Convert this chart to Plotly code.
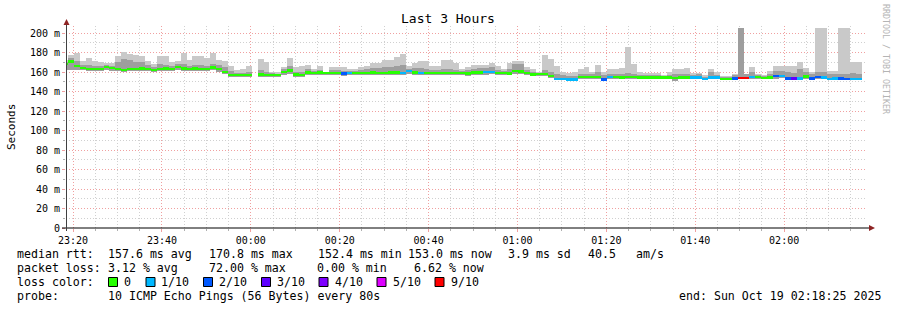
import plotly.graph_objects as go
from datetime import datetime, timedelta

# ---------------- data ----------------
START = datetime(2025, 10, 18, 23, 18, 25)
END = datetime(2025, 10, 19, 2, 18, 25)
STEP_S = 80              # probe step (seconds)
FIRST_CENTER_S = -13     # centre of first step relative to START

# median rtt per step (ms)
median = [
    168, 170.8, 166, 164, 163, 163, 163, 165, 164, 163,
    162, 163, 163, 163.5, 163, 162, 163, 163.5, 163, 165,
    163.5, 163, 163.5, 163, 163, 164.5, 163, 160, 157, 157,
    157, 157, None, 157.4, 157, 157, 157, 160, 161.5, 157.5,
    157, 159.5, 159, 159.5, 159, 159, 159, 158.5, 159, 159,
    159, 159, 159.5, 159, 159, 159.5, 159.5, 159, 160.8, 159.5,
    159, 159, 159, 159, 159, 159, 159, 159, 158.5, 159.5,
    159.5, 160, 160, 159, 159, 158.5, 161, 160.5, 159, 157.5,
    158, 158, 156, 153, 153, 152.5, 152.5, 155, 155, 155,
    155, 152.5, 155, 155, 154.5, 155, 155, 154.5, 154.5, 154.5,
    154.5, 154.5, 154.5, 154, 154.5, 154.5, 154.5, 154.5, 153, 154.5,
    154.5, 153, 153, 153.5, 154, 154, 155, 155, 154, 154.5,
    156, 156, 153.5, 153.5, 153.5, 155.5, 153.5, 155, 154.5, 153,
    153.5, 153.5, 153, 153, 153,
]
# highest ping per step (top of light smoke)
smoke_max = [
    172, 177, 179, 171, 174, 171, 170, 169, 169, 176,
    181, 178, 177, 176, 171, 168, 176, 176, 170, 171,
    179, 172, 176, 176, 174, 179, 172.5, 171, 166, 162,
    163.5, 166, None, 173, 170, 160, 160, 165, 174, 165,
    166.5, 167, 163, 166.5, 160, 165.5, 165.5, 165.5, 163.5, 163.5,
    165, 166.5, 169.5, 169.5, 172.5, 172.5, 175.5, 178, 166.5, 169.5,
    171, 171, 166.5, 166.5, 172.5, 172.5, 169.5, 163.5, 165.5, 167,
    167, 167, 169.5, 166.5, 163.5, 169.5, 171, 171, 165, 163.5,
    160, 177, 173, 166.5, 160, 158.5, 160, 163.5, 165, 160,
    167, 160, 163.5, 163.5, 164, 185.5, 168, 160, 158.5, 158.5,
    158.5, 157, 160, 163, 163.5, 164, 158.5, 158.5, 157, 163.5,
    160, 155.5, 155.5, 158, 205, 158, 165, 158, 156.5, 161,
    166, 166, 166, 166.5, 170.5, 164, 160, 205, 205, 161,
    161, 205, 205, 170, 170,
]
# upper edge of the denser smoke
smoke_mid = [
    170, 174, 171, 167, 167, 166, 166, 167, 166, 170,
    173, 172, 170, 170, 167, 165, 168, 167, 166, 168,
    168, 166, 167, 167, 166, 168, 167, 165, 161, 159,
    159, 160, None, 162, 160, 159, 158, 163, 166, 160,
    160, 163, 161, 162, 160, 162, 162, 161, 161, 161,
    162, 163, 164, 164, 165, 165, 166, 167, 163, 164,
    164, 163, 162, 162, 163, 163, 162, 161, 162, 163,
    164, 164, 165, 162, 161, 163, 168, 168, 162, 160,
    159, 162, 160, 158, 157, 156, 156, 158, 158, 158,
    160, 157, 158, 158, 158, 159, 158, 157, 157, 157,
    157, 156, 157, 158, 158, 158, 157, 158, 155, 160,
    157, 155, 155, 157, 205, 158, 160, 157, 156, 158,
    161, 161, 160, 159, 163, 160, 158, 160, 160, 158,
    158, 158, 158, 159, 158,
]
# lowest ping per step (bottom of smoke)
smoke_min = [
    162, 162, 162, 162, 161, 161, 161, 162, 161, 161,
    160, 161, 161, 161, 161, 160, 161, 161, 161, 162,
    161, 161, 161, 161, 161, 162, 160, 158, 155, 155,
    155, 155, None, 155, 155, 155, 155, 157, 158, 155,
    155, 157, 157, 157, 157, 157, 157, 156, 157, 157,
    157, 157, 157, 157, 157, 157, 157, 157, 158, 157,
    157, 157, 157, 157, 157, 157, 157, 157, 156, 157,
    157, 157, 158, 157, 157, 157, 158, 158, 157, 156,
    156, 156, 154, 152, 152, 151.5, 151.5, 153, 153, 153,
    153, 151.5, 153, 153, 153, 153, 153, 153, 153, 153,
    153, 153, 153, 151, 153, 153, 153, 153, 152, 153,
    153, 152, 152, 152, 153, 153, 153, 153, 153, 153,
    153, 154, 152, 152, 152, 153, 152, 153, 153, 152,
    152, 152, 152, 152, 152,
]
# lost pings (out of 10) per step
loss = [
    0, 0, 0, 0, 0, 0, 0, 0, 0, 0,
    0, 0, 0, 0, 0, 0, 0, 0, 0, 0,
    0, 0, 0, 0, 0, 0, 0, 0, 0, 0,
    0, 0, None, 0, 0, 0, 0, 0, 0, 0,
    0, 0, 0, 0, 0, 0, 0, 2, 1, 0,
    0, 0, 0, 0, 0, 0, 0, 1, 1, 0,
    1, 0, 0, 0, 0, 0, 0, 0, 0, 0,
    0, 1, 1, 0, 0, 0, 0, 0, 0, 0,
    0, 0, 0, 1, 1, 1, 1, 0, 0, 0,
    0, 2, 1, 0, 0, 0, 0, 0, 0, 0,
    0, 0, 0, 0, 0, 0, 1, 1, 1, 1,
    1, 0, 0, 2, 9, 9, 1, 0, 0, 0,
    2, 1, 2, 3, 1, 0, 2, 2, 1, 1,
    1, 2, 2, 1, 1,
]

y_ticks = [0, 20, 40, 60, 80, 100, 120, 140, 160, 180, 200]
y_ticktext = ["0"] + [f"{v} m" for v in y_ticks[1:]]

loss_levels = [0, 1, 2, 3, 4, 5, 9]
loss_labels = ["0", "1/10", "2/10", "3/10", "4/10", "5/10", "9/10"]
loss_colors = {0: "#26ff00", 1: "#00b8ff", 2: "#0059ff", 3: "#5e00ff",
               4: "#7e00ff", 5: "#dd00ff", 9: "#ff0000"}

rtt_stats = ["157.6 ms avg", "170.8 ms max", "152.4 ms min", "153.0 ms now",
             "3.9 ms sd", "40.5", "am/s"]
loss_stats = ["3.12 % avg", "72.00 % max", "0.00 % min", "6.62 % now"]
probe_text = "10 ICMP Echo Pings (56 Bytes) every 80s"
end_text = "end: Sun Oct 19 02:18:25 2025"

# ---------------- build ----------------
times = [START + timedelta(seconds=FIRST_CENTER_S + STEP_S * i) for i in range(len(median))]
idx = [i for i in range(len(median)) if median[i] is not None]
T = [times[i] for i in idx]
W = STEP_S * 1000
MONO = "DejaVu Sans Mono"
MED_HALF = 1.3

fig = go.Figure()
fig.add_trace(go.Bar(
    x=T, base=[smoke_min[i] for i in idx],
    y=[smoke_max[i] - smoke_min[i] for i in idx],
    width=W, marker=dict(color="#c9c9c9", line=dict(width=0)), hoverinfo="skip"))
fig.add_trace(go.Bar(
    x=T, base=[smoke_min[i] for i in idx],
    y=[smoke_mid[i] - smoke_min[i] for i in idx],
    width=W, marker=dict(color="#9e9e9e", line=dict(width=0)), hoverinfo="skip"))
fig.add_trace(go.Bar(
    x=T, base=[median[i] - MED_HALF for i in idx],
    y=[2 * MED_HALF for _ in idx],
    width=W, marker=dict(color=[loss_colors[loss[i]] for i in idx], line=dict(width=0)),
    hoverinfo="skip"))

L, R, TOP, BOT = 66, 866, 26, 228
PH = BOT - TOP


def px(x):
    return (x - L) / (R - L)


def py(y):
    return (BOT - y) / PH


MAJ = "#f0a0a0"
MIN = "#d0d0d0"
DOTS = "1px,2px"

fig.update_layout(
    width=897, height=310,
    margin=dict(l=L, r=897 - R, t=TOP, b=310 - BOT),
    paper_bgcolor="white", plot_bgcolor="white",
    showlegend=False, barmode="overlay", bargap=0,
    font=dict(family=MONO, color="#000000"),
    xaxis=dict(
        type="date", range=[START, END],
        tickformat="%H:%M", dtick=20 * 60 * 1000, tick0="2025-10-18 23:20:00",
        showgrid=True, gridcolor=MAJ, griddash=DOTS, gridwidth=1,
        ticks="outside", ticklen=3, tickcolor=MAJ,
        tickfont=dict(family=MONO, size=10, color="#000000"),
        showline=False, zeroline=False,
        minor=dict(dtick=5 * 60 * 1000, tick0="2025-10-18 23:20:00", showgrid=True,
                   gridcolor=MIN, griddash=DOTS, gridwidth=1,
                   ticks="outside", ticklen=2, tickcolor="#b0b0b0"),
    ),
    yaxis=dict(
        range=[0, PH / 0.975],
        tickvals=y_ticks, ticktext=y_ticktext,
        showgrid=True, gridcolor=MAJ, griddash=DOTS, gridwidth=1,
        ticks="outside", ticklen=3, tickcolor=MAJ,
        tickfont=dict(family=MONO, size=10, color="#000000"),
        showline=False, zeroline=False,
        minor=dict(dtick=10, showgrid=True, gridcolor=MIN, griddash=DOTS, gridwidth=1,
                   ticks="outside", ticklen=2, tickcolor="#b0b0b0"),
    ),
)

shapes = [
    dict(type="line", xref="paper", yref="paper", x0=px(62), x1=px(870), y0=py(228), y1=py(228),
         line=dict(color="#000000", width=1)),
    dict(type="line", xref="paper", yref="paper", x0=px(66.5), x1=px(66.5), y0=py(231), y1=py(22),
         line=dict(color="#404040", width=1)),
    dict(type="path", xref="paper", yref="paper",
         path=f"M {px(63.5)},{py(25)} L {px(69.5)},{py(25)} L {px(66.5)},{py(19)} Z",
         fillcolor="#8e2424", line=dict(width=0)),
    dict(type="path", xref="paper", yref="paper",
         path=f"M {px(869)},{py(225)} L {px(869)},{py(231)} L {px(875)},{py(228)} Z",
         fillcolor="#8e2424", line=dict(width=0)),
]

annotations = []


def txt(s, x, y, size=11.6, anchor="left", color="#000000", angle=0):
    annotations.append(dict(text=s.replace(" ", "\u00a0"), xref="paper", yref="paper",
                            x=px(x), y=py(y), xanchor=anchor, yanchor="middle",
                            showarrow=False, borderpad=0, textangle=angle,
                            font=dict(family=MONO, size=size, color=color)))


txt("Last 3 Hours", 448, 19, size=13, anchor="center")
txt("Seconds", 11, 127, size=11, anchor="center", angle=-90)
txt("RRDTOOL / TOBI OETIKER", 886, 59, size=8.3, anchor="center", color="#b4b4b4", angle=90)

y1, y2, y3, y4 = 254, 268, 282, 296
txt("median rtt:", 16, y1)
for s, x in zip(rtt_stats, [107.3, 208, 317, 407.3, 506.7, 586.7, 635]):
    txt(s, x, y1)
txt("packet loss:", 16, y2)
for s, x in zip(loss_stats, [107.3, 208, 316, 413.3]):
    txt(s, x, y2)
txt("loss color:", 16, y3)
sq_x = [108.5, 146, 203.5, 261.5, 319, 377, 435]
lab_x = [122.7, 160, 218.3, 276, 334, 391.7, 450]
for lv, lab, sx, lx in zip(loss_levels, loss_labels, sq_x, lab_x):
    shapes.append(dict(type="rect", xref="paper", yref="paper",
                       x0=px(sx), x1=px(sx + 9), y0=py(y3 + 4.5), y1=py(y3 - 4.5),
                       fillcolor=loss_colors[lv], line=dict(color="#000000", width=1)))
    txt(lab, lx, y3)
txt("probe:", 16, y4)
txt(probe_text, 107.3, y4)
txt(end_text, 678.3, y4)

fig.update_layout(shapes=shapes, annotations=annotations)
fig.write_html("out.html")
